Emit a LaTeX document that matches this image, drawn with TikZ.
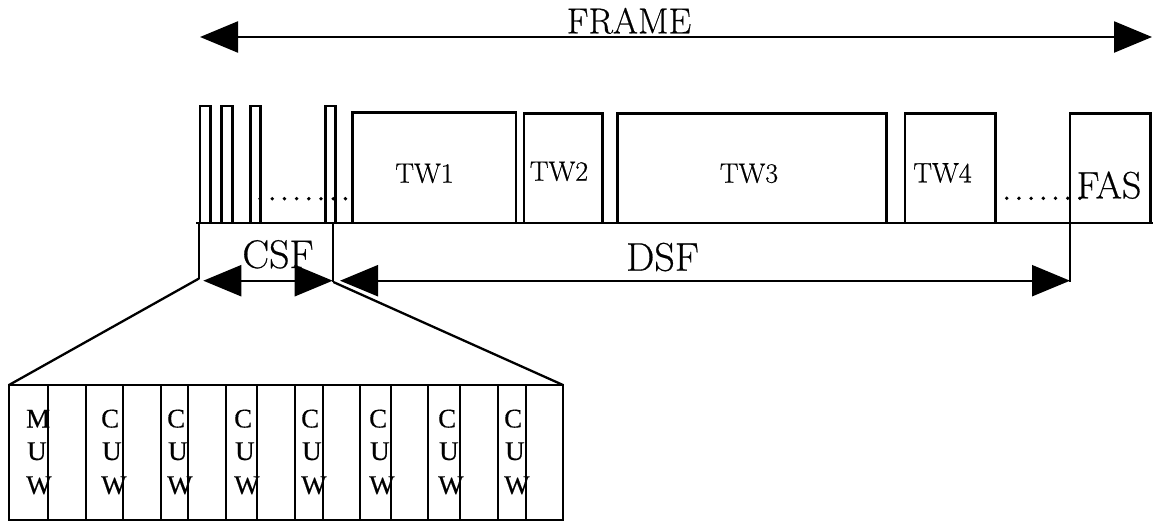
\documentclass[tikz,border=0pt]{standalone}
\usepackage{fontspec}
\setmainfont{Latin Modern Roman}[FakeBold=0.5]
\newfontfamily\timesf{Liberation Serif}[FakeBold=0.3]
\usetikzlibrary{arrows.meta}
\begin{document}
\begin{tikzpicture}[x=1pt,y=-1pt,line width=2.3pt,
  blk/.style={draw,line width=2.6pt,inner sep=0pt,outer sep=0pt,anchor=north west},
  cell/.style={draw,line width=2.3pt,inner sep=0pt,outer sep=0pt,anchor=north west,minimum height=135pt},
  lbl/.style={inner sep=0pt,anchor=base,font=\fontsize{28}{30}\selectfont},
  big/.style={inner sep=0pt,anchor=base,font=\fontsize{40}{42}\selectfont},
  cuw/.style={inner sep=0pt,anchor=base west,font=\timesf\fontsize{27}{30}\selectfont},
  dotline/.style={line width=3.8pt,line cap=round,dash pattern=on 0pt off 12.2pt},
  dimarrow/.style={{Triangle[length=38pt,width=31pt]}-{Triangle[length=38pt,width=31pt]}},
]
\useasboundingbox (0,0) rectangle (1155,522);

% FRAME
\coordinate (fl) at (200,37);
\coordinate (fr) at (1152,37);
\draw[dimarrow] (fl) -- (fr);
\node[big,font=\fontsize{36}{38}\selectfont] (frame) at (629,33.3) {FRAME};

% baseline
\coordinate (bl) at (196,223);
\coordinate (br) at (1153,223);
\draw (bl) -- (br);

% control slots
\node[blk,minimum width=10.7pt,minimum height=117pt] (b1) at (200,106) {};
\node[blk,minimum width=10.6pt,minimum height=117pt] (b2) at (221.7,106) {};
\node[blk,minimum width=10pt,minimum height=117pt] (b3) at (250.7,106) {};
\node[blk,minimum width=10pt,minimum height=117pt] (b4) at (325.3,106) {};
\coordinate (d1s) at (260,198.7);
\coordinate (d1e) at (346,198.7);
\draw[dotline] (d1s) -- (d1e);

% traffic windows
\node[blk,minimum width=163.3pt,minimum height=110.3pt] (tw1) at (352.7,112.7) {};
\node[blk,minimum width=78.7pt,minimum height=109.7pt] (tw2) at (524,113.3) {};
\node[blk,minimum width=269pt,minimum height=109.7pt] (tw3) at (617.7,113.3) {};
\node[blk,minimum width=90.7pt,minimum height=109.7pt] (tw4) at (905,113.3) {};
\node[blk,minimum width=80.7pt,minimum height=109.7pt] (fas) at (1070,113.3) {};
\node[lbl] (l1) at (424.5,182.7) {TW1};
\node[lbl] (l2) at (559,180.7) {TW2};
\node[lbl] (l3) at (749,182.7) {TW3};
\node[lbl] (l4) at (942.5,182.3) {TW4};
\node[lbl,font=\fontsize{38}{40}\selectfont] (lf) at (1109,198.3) {FAS};
\coordinate (d2s) at (1006.7,198.3);
\coordinate (d2e) at (1080,198.3);
\draw[dotline] (d2s) -- (d2e);

% CSF / DSF
\coordinate (csfT) at (199,223);
\coordinate (csfL) at (199,278.5);
\coordinate (csfU) at (333.3,223);
\coordinate (csfR) at (333.3,282);
\coordinate (fasT) at (1070,223);
\coordinate (fasB) at (1070,281.5);
\draw (csfT) -- (csfL);
\draw (csfU) -- (csfR);
\draw (fasT) -- (fasB);
\coordinate (ca) at (203.3,280.7);
\coordinate (cb) at (332.7,280.7);
\coordinate (da) at (340,280.7);
\coordinate (db) at (1070,280.7);
\draw[dimarrow] (ca) -- (cb);
\draw[dimarrow] (da) -- (db);
\node[big] (csf) at (278,268) {CSF};
\node[big] (dsf) at (662.5,270.7) {DSF};

% expanded control sub-frame
\foreach \a/\b [count=\i] in {9/48,48/86,86/123,123/161,161/188,188/226,226/257,257/295,295/323,323/360,360/391,391/428,428/460,460/498,498/526,526/563}
  \node[cell,minimum width={\b pt-\a pt}] (c\i) at (\a,385) {};
\draw (csfL) -- (c1.north west);
\draw (csfR) -- (c16.north east);
\foreach \x [count=\i] in {25,100,166,233,300,368,437,503} {
  \node[cuw] (t\i a) at (\x,427.5) {\ifnum\i=1 M\else C\fi};
  \node[cuw] (t\i b) at (\x+1,460) {U};
  \node[cuw] (t\i c) at (\x,494) {W};
}
\end{tikzpicture}
\end{document}
